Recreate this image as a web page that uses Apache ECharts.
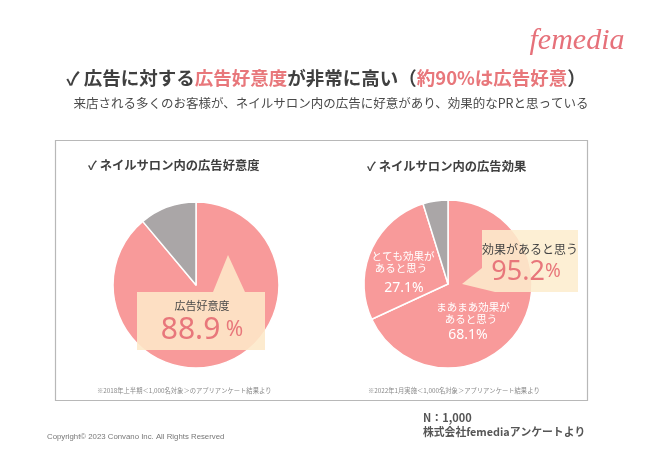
<!DOCTYPE html>
<html>
<head>
<meta charset="utf-8">
<script src="https://cdn.jsdelivr.net/npm/echarts@6/dist/echarts.min.js"></script>
<style>
html,body{margin:0;padding:0;background:#fff;}
#c{width:650px;height:460px;}
</style>
</head>
<body>
<div id="c"></div>
<script>
// ---- data ----
const favorCategories = ['広告好意度', 'その他'];
const favorValues = [88.9, 11.1];
const effectCategories = ['まあまあ効果があると思う', 'とても効果があると思う', 'その他'];
const effectValues = [68.1, 27.1, 4.8];
const favorHeadline = '88.9';
const effectHeadline = '95.2';

const JP = '"Noto Sans CJK JP", "Noto Sans", sans-serif';
const PINK = '#f89a9a';
const GREY = '#aaa6a7';
const DARK = '#404040';
const ACCENT = '#e8777b';

const chart = echarts.init(document.getElementById('c'), null, {renderer: 'canvas'});

function txt(x, y, text, size, color, weight, align, extra) {
  return Object.assign({
    type: 'text', x: x, y: y, z: 200,
    style: Object.assign({
      text: text, fontSize: size, fill: color, fontWeight: weight || 'normal',
      fontFamily: JP, align: align || 'left', verticalAlign: 'middle'
    }, extra || {})
  });
}

const option = {
  backgroundColor: '#ffffff',
  animation: false,
  series: [
    {
      type: 'pie', center: [196, 285], radius: 83, startAngle: 90, clockwise: true,
      label: {show: false}, labelLine: {show: false}, silent: true,
      itemStyle: {borderColor: '#ffffff', borderWidth: 1.5},
      data: favorCategories.map((n, i) => ({name: n, value: favorValues[i],
        itemStyle: {color: i === 0 ? PINK : GREY}}))
    },
    {
      type: 'pie', center: [448, 284], radius: 84, startAngle: 90, clockwise: true,
      label: {show: false}, labelLine: {show: false}, silent: true,
      itemStyle: {borderColor: '#ffffff', borderWidth: 1.5},
      data: effectCategories.map((n, i) => ({name: n, value: effectValues[i],
        itemStyle: {color: i < 2 ? PINK : GREY}}))
    }
  ],
  graphic: [
    // frame
    {type: 'rect', z: 1, shape: {x: 55.5, y: 140.5, width: 532, height: 260},
      style: {fill: 'none', stroke: '#b8b8b8', lineWidth: 1.2}},
    // logo
    txt(577, 41, 'femedia', 30, '#e6717a', 'normal', 'center',
      {fontFamily: '"Liberation Serif", "DejaVu Serif", serif', fontStyle: 'italic'}),
    // title
    {type: 'text', x: 326, y: 78, z: 200, style: {
      text: '{d|✓ 広告に対する}{p|広告好意度}{d|が非常に高い（}{p|約90%は広告好意}{d|）}',
      align: 'center', verticalAlign: 'middle',
      rich: {
        d: {fontSize: 18.5, fontWeight: 'bold', fill: DARK, fontFamily: JP},
        p: {fontSize: 18.5, fontWeight: 'bold', fill: ACCENT, fontFamily: JP}
      }
    }},
    txt(331, 103, '来店される多くのお客様が、ネイルサロン内の広告に好意があり、効果的なPRと思っている', 12.5, '#4a4a4a', 'normal', 'center'),
    // card titles
    txt(88, 165, '✓ ネイルサロン内の広告好意度', 12.3, DARK, 'bold'),
    txt(367, 166, '✓ ネイルサロン内の広告効果', 12.3, DARK, 'bold'),
    // notes
    txt(97, 391, '※2018年上半期＜1,000名対象＞のアプリアンケート結果より', 6.3, '#8a8a8a'),
    txt(368, 391, '※2022年1月実施＜1,000名対象＞アプリアンケート結果より', 6.3, '#8a8a8a'),
    // left callout
    {type: 'polygon', z: 150, shape: {points: [[137, 292], [213, 292], [228, 255], [245, 292], [265, 292], [265, 350], [137, 350]]},
      style: {fill: 'rgba(253,232,200,0.88)'}},
    txt(202, 306, '広告好意度', 11, '#4a4a4a', 'normal', 'center'),
    {type: 'text', x: 202, y: 330, z: 200, style: {
      text: '{n|' + favorHeadline + '}{u| %}', align: 'center', verticalAlign: 'middle',
      rich: {
        n: {fontSize: 30, fill: ACCENT, fontFamily: '"Noto Sans", sans-serif'},
        u: {fontSize: 21, fill: ACCENT, fontFamily: '"Noto Sans", sans-serif'}
      }
    }},
    // right callout
    {type: 'polygon', z: 150, shape: {points: [[482, 230], [578, 230], [578, 292], [495, 292], [462, 284], [482, 268]]},
      style: {fill: 'rgba(253,236,205,0.86)'}},
    txt(530, 249, '効果があると思う', 12, '#444444', 'normal', 'center'),
    {type: 'text', x: 526, y: 272, z: 200, style: {
      text: '{n|' + effectHeadline + '}{u|%}', align: 'center', verticalAlign: 'middle',
      rich: {
        n: {fontSize: 27, fill: ACCENT, fontFamily: '"Noto Sans", sans-serif'},
        u: {fontSize: 19, fill: ACCENT, fontFamily: '"Noto Sans", sans-serif'}
      }
    }},
    // white slice labels
    txt(403, 256, 'とても効果が', 10.5, '#ffffff', 'normal', 'center'),
    txt(401, 268, 'あると思う', 10.5, '#ffffff', 'normal', 'center'),
    txt(404, 288, effectValues[1].toFixed(1) + '%', 14, '#ffffff', 'normal', 'center', {fontFamily: '"Noto Sans", sans-serif'}),
    txt(473, 307, 'まあまあ効果が', 10.5, '#ffffff', 'normal', 'center'),
    txt(471, 319, 'あると思う', 10.5, '#ffffff', 'normal', 'center'),
    txt(468, 335, effectValues[0].toFixed(1) + '%', 14, '#ffffff', 'normal', 'center', {fontFamily: '"Noto Sans", sans-serif'}),
    // footer
    txt(423, 418, 'N：1,000', 11, '#555555', 'bold'),
    txt(423, 432, '株式会社femediaアンケートより', 10.8, '#555555', 'bold'),
    txt(47, 437, 'Copyright© 2023 Convano Inc. All Rights Reserved', 7.8, '#777777', 'normal', 'left',
      {fontFamily: '"Liberation Sans", sans-serif'})
  ]
};
chart.setOption(option);
</script>
</body>
</html>
